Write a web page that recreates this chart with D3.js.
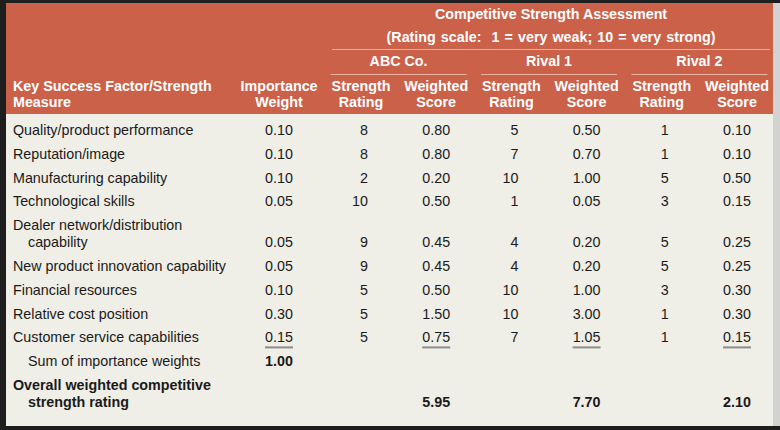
<!DOCTYPE html>
<html>
<head>
<meta charset="utf-8">
<script src="https://cdn.jsdelivr.net/npm/d3@7"></script>
<style>
  body { margin: 0; background: #1e1e1e; }
  svg { display: block; font-family: "Liberation Sans", Arial, Helvetica, sans-serif; }
</style>
</head>
<body>
<div id="vis"></div>
<script>

// table values
const factors = [
  "Quality/product performance",
  "Reputation/image",
  "Manufacturing capability",
  "Technological skills",
  "Dealer network/distribution\ncapability",
  "New product innovation capability",
  "Financial resources",
  "Relative cost position",
  "Customer service capabilities"
]
const weights = ["0.10", "0.10", "0.10", "0.05", "0.05", "0.05", "0.10", "0.30", "0.15"]
const abcRating = [8, 8, 2, 10, 9, 9, 5, 5, 5]
const abcScore = ["0.80", "0.80", "0.20", "0.50", "0.45", "0.45", "0.50", "1.50", "0.75"]
const rival1Rating = [5, 7, 10, 1, 4, 4, 10, 10, 7]
const rival1Score = ["0.50", "0.70", "1.00", "0.05", "0.20", "0.20", "1.00", "3.00", "1.05"]
const rival2Rating = [1, 1, 5, 3, 5, 5, 3, 1, 1]
const rival2Score = ["0.10", "0.10", "0.50", "0.15", "0.25", "0.25", "0.30", "0.30", "0.15"]
const companies = ["ABC Co.", "Rival 1", "Rival 2"]
const overall = ["5.95", "7.70", "2.10"]
const weightSum = "1.00"

const W = 780, H = 430
const headColor = "#cc6149"
const bodyColor = "#efeee7"
const fs = 14.3

const svg = d3.select("#vis").append("svg")
    .attr("width", W)
    .attr("height", H)

// frame + panels
svg.append("rect").attr("width", W).attr("height", H).attr("fill", "#1e1e1e")
svg.append("rect").attr("x", 773).attr("y", 3).attr("width", 7).attr("height", 423).attr("fill", "#d2d2d0")
svg.append("rect").attr("x", 6).attr("y", 3).attr("width", 767).attr("height", 111).attr("fill", headColor)
svg.append("rect").attr("x", 6).attr("y", 114).attr("width", 767).attr("height", 312).attr("fill", bodyColor)

// columns
const colKeys = ["abcR", "abcS", "r1R", "r1S", "r2R", "r2S"]
const x = d3.scalePoint().domain(colKeys).range([361, 737])
const xWeight = 279
const xLabel = 13
const groupX = c => (x(colKeys[c * 2]) + x(colKeys[c * 2 + 1])) / 2

// rows: one step per factor plus extra for wrapped labels
const rowStep = d3.scaleLinear().domain([0, 1]).range([130, 153.8])
const wrapGap = 17
let wraps = 0
const rows = factors.map((f, i) => {
    const lines = f.split("\n")
    const y0 = rowStep(i) + wraps * wrapGap
    wraps += lines.length - 1
    return {lines, y0, y: y0 + (lines.length - 1) * wrapGap, i}
})
const ySum = rowStep(factors.length) + wraps * wrapGap
const yOverall = rowStep(factors.length + 1) + wraps * wrapGap

// ---- header
const head = svg.append("g")
    .attr("fill", "#fff")
    .attr("font-weight", "bold")
    .attr("font-size", fs)

const midAll = (x(colKeys[0]) - 29 + x(colKeys[5]) + 33) / 2

head.append("text").attr("x", midAll).attr("y", 14).attr("dy", "0.35em")
    .attr("text-anchor", "middle").text("Competitive Strength Assessment")
head.append("text").attr("x", midAll).attr("y", 37).attr("dy", "0.35em")
    .attr("text-anchor", "middle")
    .style("white-space", "pre")
    .style("word-spacing", "1.1px")
    .text("(Rating scale:  1 = very weak; 10 = very strong)")

head.append("line")
    .attr("x1", 332).attr("x2", 770).attr("y1", 49.5).attr("y2", 49.5)
    .attr("stroke", "#eab3a2").attr("stroke-width", 1)

companies.forEach((c, i) => {
    head.append("text").attr("x", groupX(i)).attr("y", 61).attr("dy", "0.35em")
        .attr("text-anchor", "middle").text(c)
    head.append("line")
        .attr("x1", groupX(i) - 68).attr("x2", groupX(i) + 68)
        .attr("y1", 74.5).attr("y2", 74.5)
        .attr("stroke", "#eab3a2").attr("stroke-width", 1)
})

head.append("text").attr("x", xLabel).attr("y", 86).attr("dy", "0.35em").text("Key Success Factor/Strength")
head.append("text").attr("x", xLabel).attr("y", 102).attr("dy", "0.35em").text("Measure")
head.append("text").attr("x", xWeight).attr("y", 86).attr("dy", "0.35em").attr("text-anchor", "middle").text("Importance")
head.append("text").attr("x", xWeight).attr("y", 102).attr("dy", "0.35em").attr("text-anchor", "middle").text("Weight")

colKeys.forEach(k => {
    const isRating = k.endsWith("R")
    head.append("text").attr("x", x(k)).attr("y", 86).attr("dy", "0.35em")
        .attr("text-anchor", "middle").text(isRating ? "Strength" : "Weighted")
    head.append("text").attr("x", x(k)).attr("y", 102).attr("dy", "0.35em")
        .attr("text-anchor", "middle").text(isRating ? "Rating" : "Score")
})

// ---- body
const body = svg.append("g")
    .attr("fill", "#1a1a1a")
    .attr("font-size", fs)

const rowG = body.selectAll(".row")
    .data(rows)
    .enter()
    .append("g")
    .attr("class", "row")

rowG.each(function(d) {
    const g = d3.select(this)
    d.lines.forEach((t, j) => {
        g.append("text")
            .attr("x", j == 0 ? xLabel : xLabel + 15)
            .attr("y", d.y0 + j * wrapGap)
            .attr("dy", "0.35em")
            .text(t)
    })
})

const cols = [
    {key: "abcR", vals: abcRating},
    {key: "abcS", vals: abcScore},
    {key: "r1R", vals: rival1Rating},
    {key: "r1S", vals: rival1Score},
    {key: "r2R", vals: rival2Rating},
    {key: "r2S", vals: rival2Score}
]

rowG.append("text")
    .attr("x", xWeight)
    .attr("y", d => d.y)
    .attr("dy", "0.35em")
    .attr("text-anchor", "middle")
    .text(d => weights[d.i])

cols.forEach(c => {
    const isRating = c.key.endsWith("R")
    rowG.append("text")
        .attr("x", isRating ? x(c.key) + 7 : x(c.key))
        .attr("y", d => d.y)
        .attr("dy", "0.35em")
        .attr("text-anchor", isRating ? "end" : "middle")
        .text(d => c.vals[d.i])
})

// rules under the last row of summed columns
const last = rows[rows.length - 1]
const ruleXs = [xWeight, x("abcS"), x("r1S"), x("r2S")]
body.selectAll(".rule")
    .data(ruleXs)
    .enter()
    .append("line")
    .attr("class", "rule")
    .attr("x1", d => d - 14)
    .attr("x2", d => d + 14)
    .attr("y1", last.y + 10)
    .attr("y2", last.y + 10)
    .attr("stroke", "#8c8c8a")
    .attr("stroke-width", 2)

// sum of weights
body.append("text").attr("x", xLabel + 15).attr("y", ySum).attr("dy", "0.35em").text("Sum of importance weights")
body.append("text").attr("x", xWeight).attr("y", ySum).attr("dy", "0.35em")
    .attr("text-anchor", "middle").attr("font-weight", "bold").text(weightSum)

// overall rating
body.append("text").attr("x", xLabel).attr("y", yOverall).attr("dy", "0.35em")
    .attr("font-weight", "bold").text("Overall weighted competitive")
body.append("text").attr("x", xLabel + 15).attr("y", yOverall + wrapGap).attr("dy", "0.35em")
    .attr("font-weight", "bold").text("strength rating")

body.selectAll(".total")
    .data(overall)
    .enter()
    .append("text")
    .attr("class", "total")
    .attr("x", (d, i) => x(colKeys[i * 2 + 1]))
    .attr("y", yOverall + wrapGap)
    .attr("dy", "0.35em")
    .attr("text-anchor", "middle")
    .attr("font-weight", "bold")
    .text(d => d)

</script>
</body>
</html>
